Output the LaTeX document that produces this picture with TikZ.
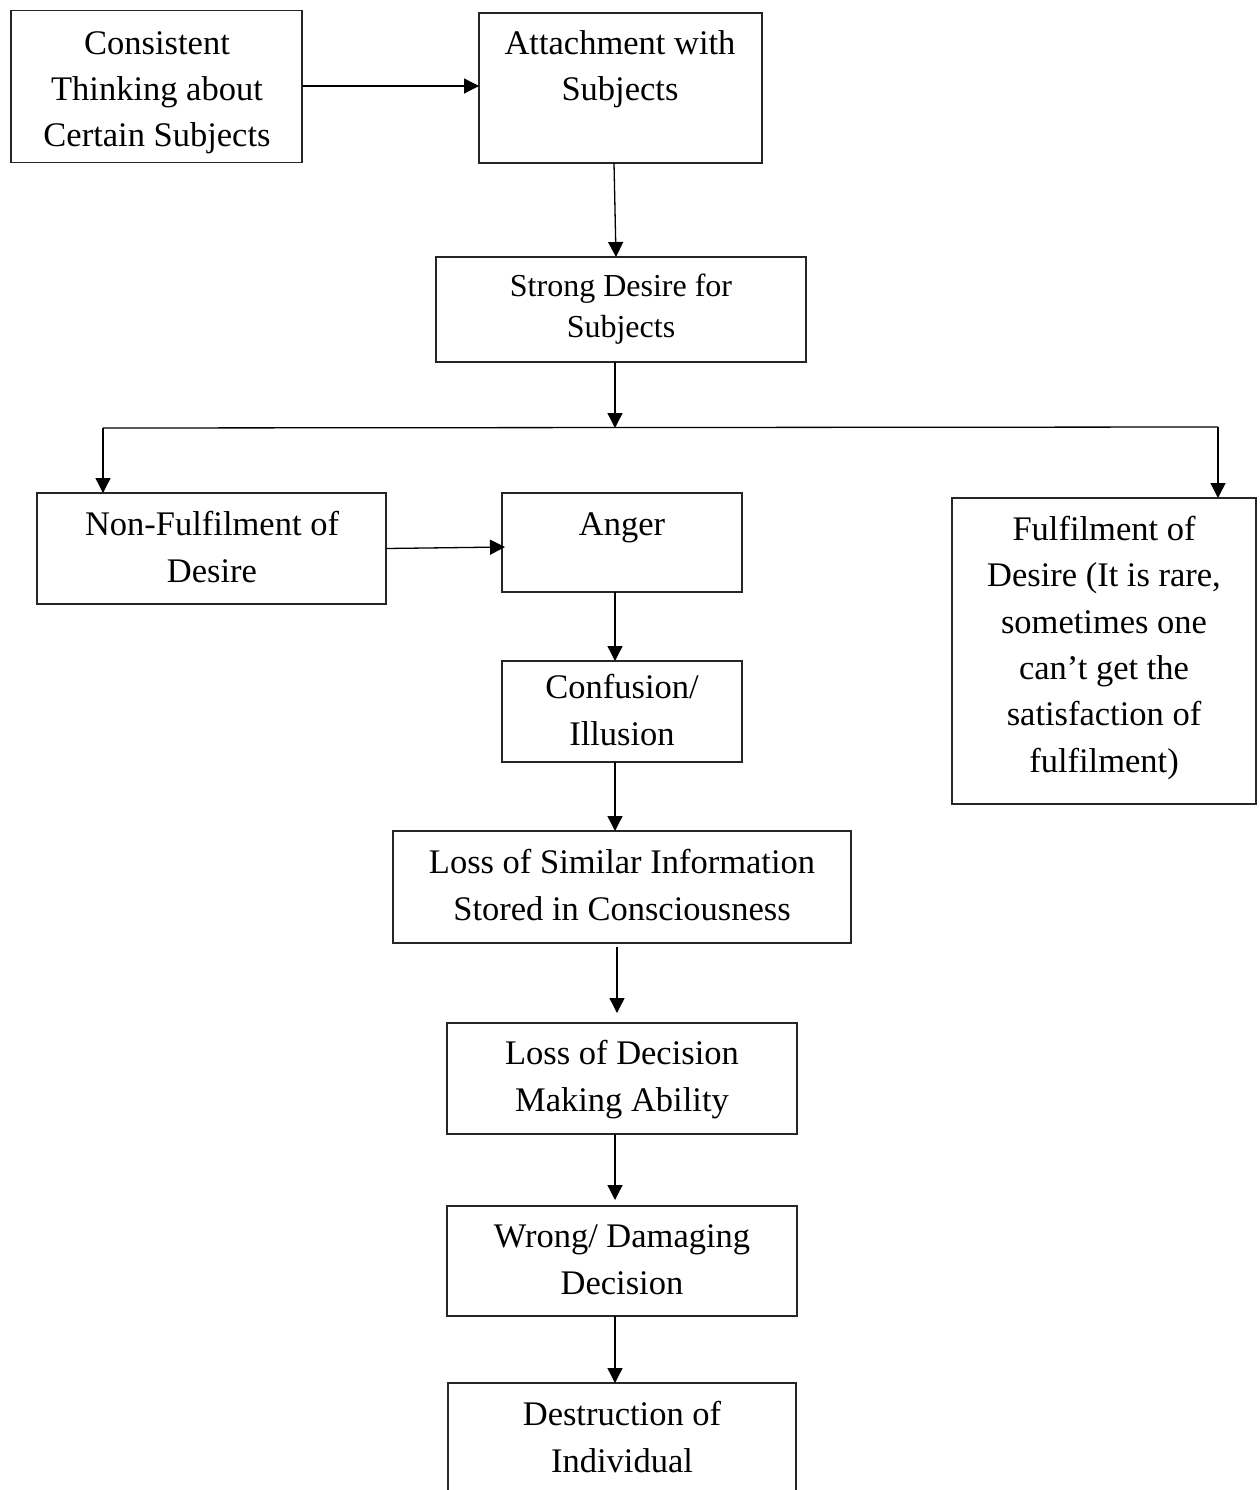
\documentclass[tikz,border=0pt]{standalone}
\usepackage{fontspec}
\setmainfont{Liberation Serif}
\usetikzlibrary{arrows.meta}
\tikzset{
  box/.style={draw=black!85, line width=1.4pt, rectangle, inner sep=0pt, outer sep=0pt},
  txt/.style={align=center, inner sep=0pt, anchor=base, font=\fontsize{34.5}{46.3}\selectfont},
  smalltxt/.style={align=center, inner sep=0pt, anchor=base, font=\fontsize{32}{40.5}\selectfont},
  arr/.style={line width=1.3pt, -{Triangle[length=15pt,width=15pt]}},
  ln/.style={line width=1.3pt}
}
\begin{document}
\begin{tikzpicture}[x=1pt,y=-1pt]
\useasboundingbox (0,0) rectangle (1259,1490);
% boxes
\node[box, minimum width=291pt, minimum height=152pt] (b1) at (156.5,86.5) {};
\node[box, minimum width=283pt, minimum height=150pt] (b2) at (620.5,88) {};
\node[box, minimum width=370pt, minimum height=105pt] (b3) at (621,309.5) {};
\node[box, minimum width=349pt, minimum height=111pt] (b4) at (211.5,548.5) {};
\node[box, minimum width=240pt, minimum height=99pt] (b5) at (622,542.5) {};
\node[box, minimum width=304pt, minimum height=306pt] (b6) at (1104,651) {};
\node[box, minimum width=240pt, minimum height=101pt] (b7) at (622,711.5) {};
\node[box, minimum width=458pt, minimum height=112pt] (b8) at (622,887) {};
\node[box, minimum width=350pt, minimum height=111pt] (b9) at (622,1078.5) {};
\node[box, minimum width=350pt, minimum height=110pt] (b10) at (622,1261) {};
\node[box, minimum width=348pt, minimum height=140pt] (b11) at (622,1453) {};
% texts (anchor = baseline of last line)
\node[txt] (t1) at (157,147) {Consistent\\Thinking about\\Certain Subjects};
\node[txt] (t2) at (620,101) {Attachment with\\Subjects};
\node[smalltxt] (t3) at (621,337) {Strong Desire for\\Subjects};
\node[txt] (t4) at (212,582) {Non-Fulfilment of\\Desire};
\node[txt] (t5) at (622,535) {Anger};
\node[txt] (t6) at (1104,772) {Fulfilment of\\Desire (It is rare,\\sometimes one\\can’t get the\\satisfaction of\\fulfilment)};
\node[txt] (t7) at (622,745) {Confusion/\\Illusion};
\node[txt] (t8) at (622,920) {Loss of Similar Information\\Stored in Consciousness};
\node[txt] (t9) at (622,1111) {Loss of Decision\\Making Ability};
\node[txt] (t10) at (622,1294) {Wrong/ Damaging\\Decision};
\node[txt] (t11) at (622,1472) {Destruction of\\Individual};
% junction coordinates
\coordinate (j) at (615,428);
\coordinate (jl) at (103,428);
\coordinate (jr) at (1218,427);
\coordinate (a45) at (505,547);
% connectors
\draw[arr] ([yshift=0.5pt]b1.east) -- ([yshift=0.5pt]b1.east -| b2.west);
\draw[arr] ([xshift=-6.5pt]b2.south) -- ([xshift=-5pt]b3.north);
\draw[arr] ([xshift=-6pt]b3.south) -- (j);
\draw[ln] (jl) -- (jr);
\draw[arr] (jl) -- (jl |- b4.north);
\draw[arr] (jr) -- (jr |- b6.north);
\draw[arr] (b4.east) -- (a45);
\draw[arr] ([xshift=-7pt]b5.south) -- ([xshift=-7pt]b7.north);
\draw[arr] ([xshift=-7pt]b7.south) -- ([xshift=-7pt]b8.north);
\draw[arr] ([xshift=-5pt,yshift=-4pt]b8.south) -- ([xshift=-5pt,yshift=10pt]b9.north);
\draw[arr] ([xshift=-7pt]b9.south) -- ([xshift=-7pt,yshift=6pt]b10.north);
\draw[arr] ([xshift=-7pt]b10.south) -- ([xshift=-7pt]b11.north);
\end{tikzpicture}
\end{document}
